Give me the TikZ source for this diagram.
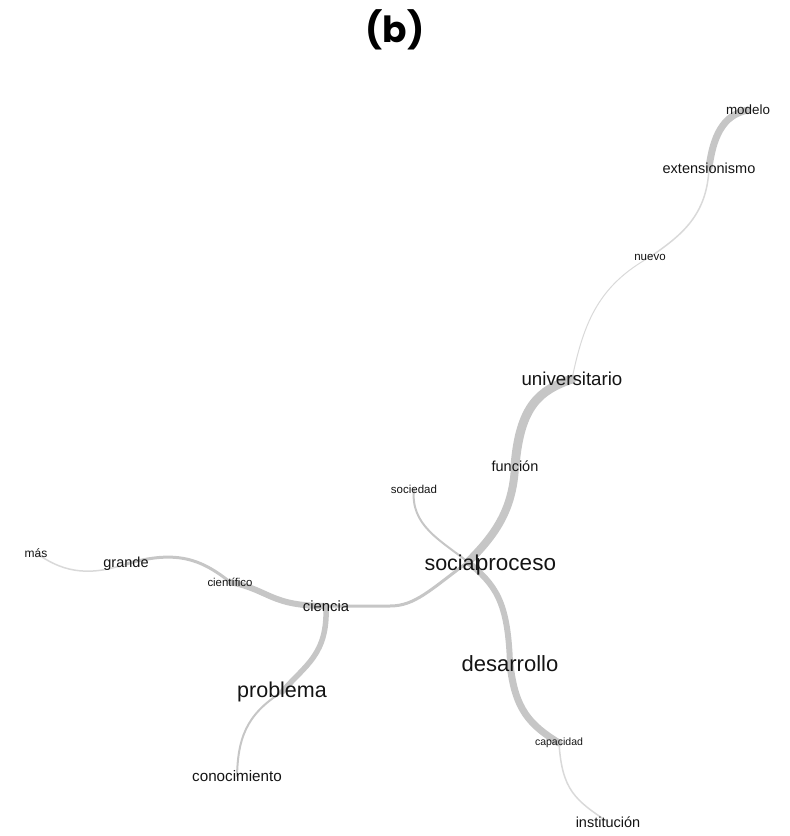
\documentclass[tikz,border=0pt]{standalone}
\usepackage{fontspec}
\setmainfont{Liberation Sans}
\newfontfamily\titlefont{Poppins}
\usetikzlibrary{backgrounds}
\begin{document}
\begin{tikzpicture}[x=1pt,y=-1pt,
  word/.style={text=black!92, inner sep=0pt, font=\fontsize{#1}{#1}\selectfont},
  link/.style={draw=gray!45, line width=#1, line cap=round},
  faint/.style={draw=gray!30, line width=#1, line cap=round}]
\useasboundingbox (0,0) rectangle (790,836);
\node[font=\titlefont\bfseries\fontsize{36}{36}\selectfont, inner sep=0pt] (title) at (395,30) {(b)};
% words
\node[word=13.4] (modelo) at (748,110) {modelo};
\node[word=14.5] (extensionismo) at (709,168) {extensionismo};
\node[word=11.5] (nuevo) at (650,257) {nuevo};
\node[word=18.7] (universitario) at (572,379) {universitario};
\node[word=14.5] (funcion) at (515,466) {función};
\node[word=11.5] (sociedad) at (414,489) {sociedad};
\node[word=21.5] (social) at (452,563) {social};
\node[word=22.5] (proceso) at (516,567) {proceso};
\node[word=22] (desarrollo) at (510,664) {desarrollo};
\node[word=10.5] (capacidad) at (559,743) {capacidad};
\node[word=14.5] (institucion) at (608,822) {institución};
\node[word=14.8] (ciencia) at (326,606) {ciencia};
\node[word=11.4] (cientifico) at (230,582) {científico};
\node[word=14.5] (grande) at (126,564) {grande};
\node[word=12] (mas) at (36,553) {más};
\node[word=21.5] (problema) at (282,692) {problema};
\node[word=15.2] (conocimiento) at (237,776) {conocimiento};
\coordinate (hub) at (468,562);
\begin{pgfonlayer}{background}
\draw[link=7] (modelo.center) .. controls (728,114) and (714,128) .. (extensionismo.center);
\draw[faint=1.5] (extensionismo.center) .. controls (707,215) and (682,235) .. (nuevo.center);
\draw[faint=1] (nuevo.center) .. controls (600,285) and (584,320) .. (universitario.center);
\draw[link=9] (universitario.center) .. controls (540,390) and (520,405) .. (funcion.center);
\draw[link=8] (funcion.center) .. controls (513,510) and (495,535) .. (hub);
\draw[link=2] (sociedad.center) .. controls (410,525) and (440,540) .. (hub);
\draw[link=3] (hub) .. controls (430,590) and (415,606) .. (390,606) -- (ciencia.center);
\draw[link=6] (hub) .. controls (495,585) and (508,600) .. (desarrollo.center);
\draw[link=7] (desarrollo.center) .. controls (515,710) and (530,725) .. (capacidad.center);
\draw[faint=1.5] (capacidad.center) .. controls (562,790) and (575,800) .. (institucion.center);
\draw[link=6] (ciencia.center) .. controls (270,606) and (270,590) .. (cientifico.center);
\draw[link=3] (cientifico.center) .. controls (200,558) and (175,550) .. (grande.center);
\draw[faint=1.5] (grande.center) .. controls (85,578) and (60,570) .. (mas.center);
\draw[link=5.5] (ciencia.center) .. controls (328,655) and (305,665) .. (problema.center);
\draw[link=2] (problema.center) .. controls (245,715) and (238,740) .. (conocimiento.center);
\end{pgfonlayer}
\end{tikzpicture}
\end{document}
